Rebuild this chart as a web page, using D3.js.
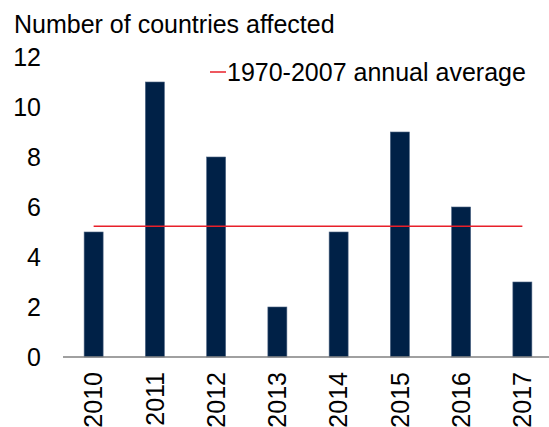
<!DOCTYPE html>
<html>
<head>
<meta charset="utf-8">
<script src="https://cdn.jsdelivr.net/npm/d3@7"></script>
<style>
  body { margin: 0; background: #fff; }
  text { font-family: 'Liberation Sans', Arial, sans-serif; fill: #000; }
</style>
</head>
<body>
<div id="chart"></div>
<script>
let years = ['2010', '2011', '2012', '2013', '2014', '2015', '2016', '2017']
let countries = [5, 11, 8, 2, 5, 9, 6, 3]
let average = 5.23
let yTicks = [0, 2, 4, 6, 8, 10, 12]
let titleText = 'Number of countries affected'
let legendText = '1970-2007 annual average'

let width = 549
let height = 427
let fontSize = 25

let svg = d3
  .select('#chart')
  .append('svg')
  .attr('width', width)
  .attr('height', height)

let x = d3.scaleBand().domain(years).range([63, 553]).paddingInner(0.69).paddingOuter(0.345)
let y = d3.scaleLinear().domain([0, 12]).range([357, 57])

svg
  .append('text')
  .attr('x', 14)
  .attr('y', 33)
  .attr('font-size', fontSize)
  .text(titleText)

// y tick labels, no axis line
svg
  .selectAll('.y-label')
  .data(yTicks)
  .enter()
  .append('text')
  .attr('class', 'y-label')
  .attr('x', 41)
  .attr('y', d => y(d))
  .attr('dy', '0.35em')
  .attr('text-anchor', 'end')
  .attr('font-size', fontSize)
  .text(d => d)

svg
  .selectAll('.bar')
  .data(countries)
  .enter()
  .append('rect')
  .attr('class', 'bar')
  .attr('x', (d, i) => x(years[i]))
  .attr('y', d => y(d))
  .attr('width', x.bandwidth())
  .attr('height', d => y(0) - y(d))
  .attr('fill', '#002147')
  .attr('stroke', '#4a6281')
  .attr('stroke-width', 0.6)

svg
  .append('line')
  .attr('x1', 63)
  .attr('x2', width)
  .attr('y1', y(0))
  .attr('y2', y(0))
  .attr('stroke', '#808080')
  .attr('stroke-width', 1.5)

svg
  .append('line')
  .attr('x1', x(years[0]) + x.bandwidth() / 2)
  .attr('x2', x(years[years.length - 1]) + x.bandwidth() / 2)
  .attr('y1', y(average))
  .attr('y2', y(average))
  .attr('stroke', '#e8202a')
  .attr('stroke-width', 1.5)

// x labels, rotated
svg
  .selectAll('.x-label')
  .data(years)
  .enter()
  .append('text')
  .attr('class', 'x-label')
  .attr('transform', d => `translate(${x(d) + x.bandwidth() / 2},372) rotate(-90)`)
  .attr('dy', '0.35em')
  .attr('text-anchor', 'end')
  .attr('font-size', fontSize)
  .text(d => d)

// legend
svg
  .append('line')
  .attr('x1', 210)
  .attr('x2', 226)
  .attr('y1', 72)
  .attr('y2', 72)
  .attr('stroke', '#e8202a')
  .attr('stroke-width', 1.5)

svg
  .append('text')
  .attr('x', 227)
  .attr('y', 81)
  .attr('font-size', fontSize)
  .text(legendText)
</script>
</body>
</html>
